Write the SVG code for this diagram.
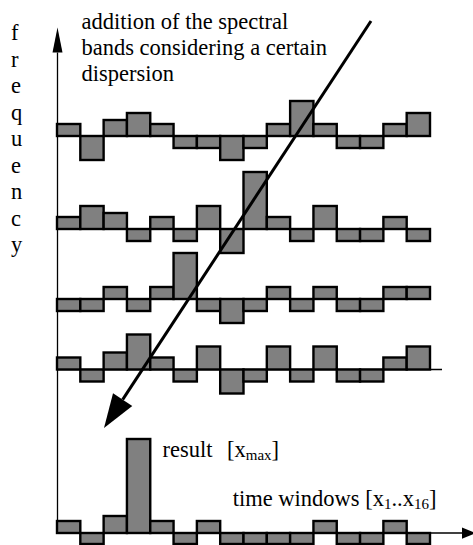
<svg xmlns="http://www.w3.org/2000/svg" width="473" height="545" viewBox="0 0 473 545">
  <style>
    .bar { fill: #808080; stroke: #000; stroke-width: 2.4; stroke-linejoin: miter; }
    .txt { font-family: "Liberation Serif", "Times New Roman", serif; font-size: 22.5px; fill: #000; }
    .sub { font-size: 15px; }
    .axis { stroke: #000; stroke-width: 1.3; fill: none; }
    .sweep { stroke: #000; stroke-width: 3; fill: none; }
  </style>
  <defs>
    <marker id="axisHeadV" markerUnits="userSpaceOnUse" markerWidth="30" markerHeight="30" refX="0" refY="0" orient="auto" viewBox="-2 -10 24 20" overflow="visible">
      <path d="M0,-4 L20,0 L0,4 Z" fill="#000"/>
    </marker>
    <marker id="axisHeadH" markerUnits="userSpaceOnUse" markerWidth="30" markerHeight="30" refX="0" refY="0" orient="auto" viewBox="-2 -10 24 20" overflow="visible">
      <path d="M0,-4.5 L11,0 L0,4.5 Z" fill="#000"/>
    </marker>
    <marker id="bigHead" markerUnits="userSpaceOnUse" markerWidth="40" markerHeight="40" refX="0" refY="0" orient="auto" viewBox="-2 -14 40 28" overflow="visible">
      <path d="M0,-11.5 L34,0 L0,11.5 Z" fill="#000"/>
    </marker>
  </defs>

  <rect x="0" y="0" width="473" height="545" fill="#fff"/>

  <!-- axis labels -->
  <g id="label-frequency" class="txt">
    <text x="11" y="40">f</text>
    <text x="11" y="66.5">r</text>
    <text x="11" y="93">e</text>
    <text x="11" y="119.5">q</text>
    <text x="11" y="146">u</text>
    <text x="11" y="172.5">e</text>
    <text x="11" y="199">n</text>
    <text x="11" y="225.5">c</text>
    <text x="11" y="252">y</text>
  </g>

  <g id="label-addition" class="txt">
    <text x="81.5" y="29">addition of the spectral</text>
    <text x="81.5" y="55">bands considering a certain</text>
    <text x="81.5" y="81">dispersion</text>
  </g>

  <!-- axes and the summation sweep -->
  <g id="connectors">
    <line class="axis" x1="57.5" y1="533" x2="57.5" y2="52.5" marker-end="url(#axisHeadV)"/>
    <line class="axis" x1="57" y1="533" x2="462" y2="533" marker-end="url(#axisHeadH)"/>
    <line class="axis" x1="57" y1="369.5" x2="442" y2="369.5"/>
  </g>

  <!-- band 1, baseline 136 -->
  <g id="band1">
    <rect class="bar" x="57" y="124" width="23.31" height="12"/>
    <rect class="bar" x="80.31" y="136" width="23.31" height="24"/>
    <rect class="bar" x="103.63" y="120" width="23.31" height="16"/>
    <rect class="bar" x="126.94" y="113" width="23.31" height="23"/>
    <rect class="bar" x="150.25" y="124" width="23.31" height="12"/>
    <rect class="bar" x="173.56" y="136" width="23.31" height="12"/>
    <rect class="bar" x="196.88" y="136" width="23.31" height="12"/>
    <rect class="bar" x="220.19" y="136" width="23.31" height="24"/>
    <rect class="bar" x="243.5" y="136" width="23.31" height="12"/>
    <rect class="bar" x="266.81" y="124" width="23.31" height="12"/>
    <rect class="bar" x="290.13" y="101" width="23.31" height="35"/>
    <rect class="bar" x="313.44" y="124" width="23.31" height="12"/>
    <rect class="bar" x="336.75" y="136" width="23.31" height="12"/>
    <rect class="bar" x="360.06" y="136" width="23.31" height="12"/>
    <rect class="bar" x="383.38" y="124" width="23.31" height="12"/>
    <rect class="bar" x="406.69" y="113" width="23.31" height="23"/>
  </g>

  <!-- band 2, baseline 229 -->
  <g id="band2">
    <rect class="bar" x="57" y="217" width="23.31" height="12"/>
    <rect class="bar" x="80.31" y="206" width="23.31" height="23"/>
    <rect class="bar" x="103.63" y="213" width="23.31" height="16"/>
    <rect class="bar" x="126.94" y="229" width="23.31" height="12"/>
    <rect class="bar" x="150.25" y="217" width="23.31" height="12"/>
    <rect class="bar" x="173.56" y="229" width="23.31" height="12"/>
    <rect class="bar" x="196.88" y="206" width="23.31" height="23"/>
    <rect class="bar" x="220.19" y="229" width="23.31" height="24"/>
    <rect class="bar" x="243.5" y="172" width="23.31" height="57"/>
    <rect class="bar" x="266.81" y="217" width="23.31" height="12"/>
    <rect class="bar" x="290.13" y="229" width="23.31" height="12"/>
    <rect class="bar" x="313.44" y="206" width="23.31" height="23"/>
    <rect class="bar" x="336.75" y="229" width="23.31" height="12"/>
    <rect class="bar" x="360.06" y="229" width="23.31" height="12"/>
    <rect class="bar" x="383.38" y="217" width="23.31" height="12"/>
    <rect class="bar" x="406.69" y="229" width="23.31" height="12"/>
  </g>

  <!-- band 3, baseline 299 -->
  <g id="band3">
    <rect class="bar" x="57" y="299" width="23.31" height="12"/>
    <rect class="bar" x="80.31" y="299" width="23.31" height="12"/>
    <rect class="bar" x="103.63" y="287" width="23.31" height="12"/>
    <rect class="bar" x="126.94" y="299" width="23.31" height="12"/>
    <rect class="bar" x="150.25" y="287" width="23.31" height="12"/>
    <rect class="bar" x="173.56" y="253" width="23.31" height="46"/>
    <rect class="bar" x="196.88" y="299" width="23.31" height="12"/>
    <rect class="bar" x="220.19" y="299" width="23.31" height="24"/>
    <rect class="bar" x="243.5" y="299" width="23.31" height="12"/>
    <rect class="bar" x="266.81" y="287" width="23.31" height="12"/>
    <rect class="bar" x="290.13" y="299" width="23.31" height="12"/>
    <rect class="bar" x="313.44" y="287" width="23.31" height="12"/>
    <rect class="bar" x="336.75" y="299" width="23.31" height="12"/>
    <rect class="bar" x="360.06" y="299" width="23.31" height="12"/>
    <rect class="bar" x="383.38" y="287" width="23.31" height="12"/>
    <rect class="bar" x="406.69" y="287" width="23.31" height="12"/>
  </g>

  <!-- band 4, baseline 369.5 -->
  <g id="band4">
    <rect class="bar" x="57" y="357.5" width="23.31" height="12"/>
    <rect class="bar" x="80.31" y="369.5" width="23.31" height="12"/>
    <rect class="bar" x="103.63" y="352.5" width="23.31" height="17"/>
    <rect class="bar" x="126.94" y="334.5" width="23.31" height="35"/>
    <rect class="bar" x="150.25" y="357.5" width="23.31" height="12"/>
    <rect class="bar" x="173.56" y="369.5" width="23.31" height="12"/>
    <rect class="bar" x="196.88" y="346.5" width="23.31" height="23"/>
    <rect class="bar" x="220.19" y="369.5" width="23.31" height="24"/>
    <rect class="bar" x="243.5" y="369.5" width="23.31" height="12"/>
    <rect class="bar" x="266.81" y="346.5" width="23.31" height="23"/>
    <rect class="bar" x="290.13" y="369.5" width="23.31" height="12"/>
    <rect class="bar" x="313.44" y="346.5" width="23.31" height="23"/>
    <rect class="bar" x="336.75" y="369.5" width="23.31" height="12"/>
    <rect class="bar" x="360.06" y="369.5" width="23.31" height="12"/>
    <rect class="bar" x="383.38" y="357.5" width="23.31" height="12"/>
    <rect class="bar" x="406.69" y="346.5" width="23.31" height="23"/>
  </g>

  <!-- summed result, baseline 533 -->
  <g id="result">
    <rect class="bar" x="57" y="521" width="23.31" height="12"/>
    <rect class="bar" x="80.31" y="533" width="23.31" height="11"/>
    <rect class="bar" x="103.63" y="516" width="23.31" height="17"/>
    <rect class="bar" x="126.94" y="439" width="23.31" height="94"/>
    <rect class="bar" x="150.25" y="521" width="23.31" height="12"/>
    <rect class="bar" x="173.56" y="533" width="23.31" height="11"/>
    <rect class="bar" x="196.88" y="521" width="23.31" height="12"/>
    <rect class="bar" x="220.19" y="533" width="23.31" height="11"/>
    <rect class="bar" x="243.5" y="533" width="23.31" height="11"/>
    <rect class="bar" x="266.81" y="533" width="23.31" height="11"/>
    <rect class="bar" x="290.13" y="533" width="23.31" height="11"/>
    <rect class="bar" x="313.44" y="521" width="23.31" height="12"/>
    <rect class="bar" x="336.75" y="533" width="23.31" height="11"/>
    <rect class="bar" x="360.06" y="533" width="23.31" height="11"/>
    <rect class="bar" x="383.38" y="521" width="23.31" height="12"/>
    <rect class="bar" x="406.69" y="533" width="23.31" height="11"/>
  </g>

  <g id="sweep">
    <line class="sweep" x1="371" y1="21" x2="122.65" y2="399.57" marker-end="url(#bigHead)"/>
  </g>

  <g id="label-result" class="txt">
    <text x="162.5" y="457">result<tspan x="227">[x</tspan><tspan class="sub" dy="3">max</tspan><tspan dy="-3">]</tspan></text>
  </g>

  <g id="label-time" class="txt">
    <text x="232.7" y="505.5">time windows [x<tspan class="sub" dy="3">1</tspan><tspan dy="-3">..x</tspan><tspan class="sub" dy="3">16</tspan><tspan dy="-3">]</tspan></text>
  </g>
</svg>
